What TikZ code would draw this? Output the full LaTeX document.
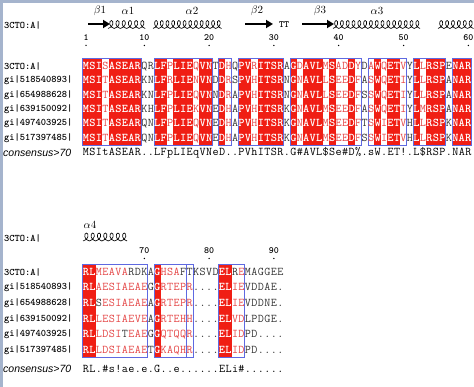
\documentclass[tikz,border=0pt]{standalone}
\usepackage{fontspec}
\newfontfamily\sanslabel{Liberation Sans}
\usepackage{tikz}
\usetikzlibrary{arrows.meta}

\definecolor{espred}{RGB}{240,30,20}
\definecolor{esppink}{RGB}{228,70,70}
\definecolor{espgrey}{RGB}{55,55,55}
\definecolor{espblue}{RGB}{95,105,225}
\definecolor{espedge}{RGB}{165,180,205}

\makeatletter
\def\seqstop{seq@stop}
\newcommand\seqrow[4]{% name, first column, y, residues (- is a gap)
  \edef\seq@name{#1}\edef\seq@first{#2}\edef\seq@y{#3}\edef\seq@col{#2}%
  \let\seq@put\seq@res
  \expandafter\seq@loop#4\seqstop}
\newcommand\consrow[4]{%
  \edef\seq@name{#1}\edef\seq@first{#2}\edef\seq@y{#3}\edef\seq@col{#2}%
  \let\seq@put\seq@cons
  \seq@loop#4\seqstop}
\def\seq@loop#1{%
  \ifx#1\seqstop\else
    \pgfmathsetmacro\seq@x{86+(\seq@col-\seq@first)*6.48}%
    \seq@put{#1}%
    \pgfmathtruncatemacro\seq@col{\seq@col+1}%
    \expandafter\seq@loop
  \fi}
\def\seq@res#1{%
  \ifx#1-%
    \node[res] (\seq@name-\seq@col) at (\seq@x,\seq@y) {.};%
  \else\ifcsname redcol\seq@col\endcsname
    \node[res, ident] (\seq@name-\seq@col) at (\seq@x,\seq@y) {#1};%
  \else\ifnum\lccode`#1=`#1
    \node[res, simil] (\seq@name-\seq@col) at (\seq@x,\seq@y) {\uppercase{#1}};%
  \else
    \node[res] (\seq@name-\seq@col) at (\seq@x,\seq@y) {#1};%
  \fi\fi\fi}
\def\seq@cons#1{%
  \node[res, cons] (\seq@name-\seq@col) at (\seq@x,\seq@y) {#1};}
\makeatother

% helix: x start, baseline y, number of turns, turn width
\newcommand\helix[4]{%
  \foreach \i in {1,...,#3}{
    \pgfmathsetmacro\hx{#1+(\i-1)*#4}
    \draw[helixline] (\hx,#2) .. controls ({\hx+0.95*#4},{#2-1}) and ({\hx+0.95*#4},{#2-8}) .. ({\hx+0.55*#4},{#2-8})
      .. controls ({\hx+0.15*#4},{#2-8}) and ({\hx+0.1*#4},{#2-1}) .. ({\hx+#4},#2);
  }}

\begin{document}
\begin{tikzpicture}[x=1pt, y=-1pt,
    res/.style={inner sep=0pt, text height=6.8pt, text depth=0pt, text=espgrey,
        font=\ttfamily\fontsize{11.8}{12}\selectfont},
    ident/.style={text=white, font=\ttfamily\bfseries\fontsize{11.8}{12}\selectfont},
    simil/.style={text=esppink},
    cons/.style={text=black},
    lab/.style={anchor=west, inner sep=0pt, font=\ttfamily\bfseries\fontsize{10}{10}\selectfont},
    conslab/.style={anchor=west, inner sep=0pt, font=\sanslabel\itshape\fontsize{10.5}{10.5}\selectfont},
    num/.style={inner sep=0pt, font=\ttfamily\bfseries\fontsize{9.5}{10}\selectfont},
    tick/.style={circle, fill=black, inner sep=0pt, minimum size=1.5pt},
    sslab/.style={inner sep=0pt, font=\fontsize{10.5}{10.5}\selectfont},
    strand/.style={line width=2.2pt, -{Triangle[length=7pt, width=8pt]}},
    helixline/.style={line width=0.65pt},
    frame/.style={draw=espblue, line width=0.7pt}]
\useasboundingbox (0,0) rectangle (474,387);
\draw[espedge, line width=3pt] (1.5,0) -- (1.5,387) (0,1.5) -- (474,1.5);

% block 1, residues 1-60
\node[lab] (top1) at (4,25) {3CTO:A|};
\draw[strand] (88,24) -- (110,24);
\helix{108}{28.5}{6}{6.2}
\helix{153}{28.5}{12}{5.7}
\draw[strand] (245,24) -- (273,24);
\node[num] (tt) at (284,25) {TT};
\draw[strand] (302,24) -- (334,24);
\helix{333}{28.5}{15}{5.8}
\helix{438}{28.5}{6}{5.9}
\foreach \t/\x in {\beta1/100, \alpha1/128, \alpha2/192, \beta2/257, \beta3/320, \alpha3/377}
  \node[sslab] (ss\x) at (\x,11) {$\t$};

\foreach \n in {1,10,20,30,40,50,60}{
  \node[num] (num\n) at ({86+(\n-1)*6.48},37.5) {\n};
  \node[tick] (tick\n) at ({86+(\n-1)*6.48},45.5) {};
}

\foreach \c in {1,2,3,5,6,7,8,9,12,13,15,16,17,19,20,22,25,26,28,29,30,31,33,35,36,37,39,42,46,48,49,52,54,55,56,58,59,60}{
  \expandafter\gdef\csname redcol\c\endcsname{}
  \fill[espred] ({86+(\c-1)*6.48-3.3},58.8) rectangle ({86+(\c-1)*6.48+3.3},145.2);
}
\foreach \a/\b in {1/9,12/20,22/23,25/31,33/43,45/50,52/56,58/60}
  \draw[frame] ({86+(\a-1)*6.48-3.24},58.8) rectangle ({86+(\b-1)*6.48+3.24},145.2);

\foreach \r/\y/\t/\s in {
    a1/66/3CTO:A|/MSIsASEARQRLFpLIEqVNTDhQPVrITSRAGdAVLmSadDyDaWqETvYLlRSPENAR,
    a2/80.4/gi|518540893|/MSItASEARKNLFrLIEnVNDDrSPVhITSRNGnAVLlSeeDfAsWqETiYLlRSPANAR,
    a3/94.8/gi|654988628|/MSItASEARKNLFpLIEqVNNDrAPVhITSRNGnAVLlSeeDfSsWqETiYLlRSPANAR,
    a4/109.2/gi|639150092|/MSItASEARKHLFpLIEkVNEDhAPVhITSRKGnAVLmSeeDfAsWqETiYLmRSPANAR,
    a5/123.6/gi|497403925|/MSItASEARQNLFpLIEqVNEDhAPVhITSRKGnAVLmSeeDfTsWiETvHLlRSPKNAR,
    a6/138/gi|517397485|/MSItASEARQNLFpLIEqVNEDhAPVhITSRKGnAVLmSeeDfSsWiETvHLlRSPKNAR}{
  \node[lab] (\r-lab) at (4,\y) {\t};
  \seqrow{\r}{1}{\y}{\s}
}
\node[conslab] (cons1-lab) at (3,152.5) {consensus>70};
\consrow{c1}{1}{152.5}{MSItASEAR..LFpLIEqVNeD..PVhITSR.G\#AVL\$Se\#D\%.sW.ET!.L\$RSP.NAR}

% block 2, residues 61-91
\node[lab] (top2) at (4,238) {3CTO:A|};
\node[sslab] (ss4) at (90,225) {$\alpha4$};
\helix{83}{241}{7}{6.3}

\foreach \n in {70,80,90}{
  \node[num] (num\n) at ({86+(\n-61)*6.48},250.5) {\n};
  \node[tick] (tick\n) at ({86+(\n-61)*6.48},258.5) {};
}

\foreach \c in {61,62,72,82,83}{
  \expandafter\gdef\csname redcol\c\endcsname{}
  \fill[espred] ({86+(\c-61)*6.48-3.3},264.2) rectangle ({86+(\c-61)*6.48+3.3},357.8);
}
\foreach \a/\b in {61/70,72/76,77/77,82/85}
  \draw[frame] ({86+(\a-61)*6.48-3.24},264.2) rectangle ({86+(\b-61)*6.48+3.24},357.8);

\foreach \r/\y/\t/\s in {
    b1/272/3CTO:A|/RLmeavaRDKAGhsaFTKSVDELReMAGGEE,
    b2/287.6/gi|518540893|/RLaesiaeaeGGrtepr----ELieVDDAE-,
    b3/303.2/gi|654988628|/RLSesiaeaeAGrtepr----ELieVDDNE-,
    b4/318.8/gi|639150092|/RLlesiaeveAGrtehh----ELvdLPDGE-,
    b5/334.4/gi|497403925|/RLldsiTeaeGGqtqqr----ELidPD----,
    b6/350/gi|517397485|/RLldsiaeaeTGkaqhr----ELidPD----}{
  \node[lab] (\r-lab) at (4,\y) {\t};
  \seqrow{\r}{61}{\y}{\s}
}
\node[conslab] (cons2-lab) at (3,369) {consensus>70};
\consrow{c2}{61}{369}{RL.\#s!ae.e.G..e......ELi\#......}
\end{tikzpicture}
\end{document}
